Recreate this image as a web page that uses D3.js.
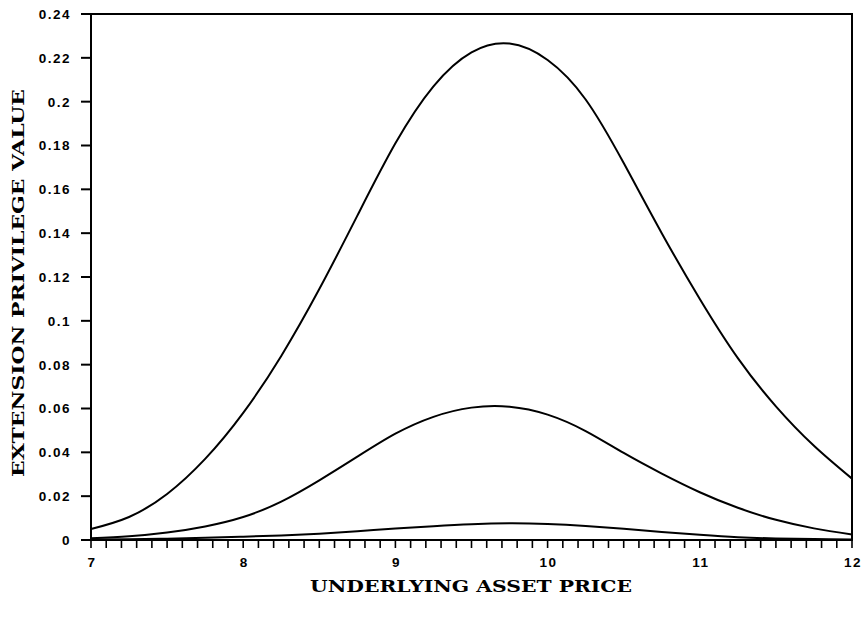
<!DOCTYPE html>
<html>
<head>
<meta charset="utf-8">
<script src="https://cdn.jsdelivr.net/npm/d3@7"></script>
<style>
  html, body { margin: 0; padding: 0; background: #fff; }
  svg { display: block; }
</style>
</head>
<body>
<div id="chart"></div>
<script>
// underlying asset price, read every 0.25
const prices = [7, 7.25, 7.5, 7.75, 8, 8.25, 8.5, 8.75, 9, 9.25, 9.5, 9.75,
  10, 10.25, 10.5, 10.75, 11, 11.25, 11.5, 11.75, 12];

// extension privilege value, one array per curve
const upperCurve = [0.005, 0.0105, 0.021, 0.037, 0.058, 0.084, 0.1145, 0.148, 0.181, 0.207,
  0.2225, 0.2265, 0.219, 0.201, 0.172, 0.140, 0.110, 0.083, 0.061, 0.043, 0.028];
const middleCurve = [0.0008, 0.0017, 0.0034, 0.0062, 0.0105, 0.0175, 0.0272, 0.038, 0.0485,
  0.0562, 0.0604, 0.0608, 0.0572, 0.0497, 0.0397, 0.0303, 0.0218, 0.0147, 0.0092, 0.0053, 0.0025];
const lowerCurve = [0.0002, 0.0003, 0.0006, 0.001, 0.0015, 0.0021, 0.0029, 0.004, 0.0052,
  0.0063, 0.0072, 0.0076, 0.0073, 0.0064, 0.0051, 0.0037, 0.0024, 0.0013, 0.0007, 0.0004, 0.0002];

const xTicks = [7, 8, 9, 10, 11, 12];
const yTicks = [0, 0.02, 0.04, 0.06, 0.08, 0.1, 0.12, 0.14, 0.16, 0.18, 0.2, 0.22, 0.24];

const width = 866;
const height = 619;
const marginLeft = 91;
const marginRight = 14;
const marginTop = 14;
const marginBottom = 79;

const x = d3.scaleLinear()
  .domain([7, 12])
  .range([marginLeft, width - marginRight]);

const y = d3.scaleLinear()
  .domain([0, 0.24])
  .range([height - marginBottom, marginTop]);

const svg = d3.select("#chart").append("svg")
  .attr("width", width)
  .attr("height", height);

const labelFont = "Liberation Sans, Arial, sans-serif";

// frame: left, bottom, top and right edges
svg.append("path")
  .attr("d", `M${x(7)},${y(0)}V${y(0.24)}M${x(7) - 10},${y(0.24)}H${x(12)}V${y(0)}H${x(7)}`)
  .attr("fill", "none")
  .attr("stroke", "#000")
  .attr("stroke-width", 2);

// y ticks and labels
const yg = svg.append("g");
yg.selectAll("line")
  .data(yTicks)
  .join("line")
  .attr("x1", x(7) - 10)
  .attr("x2", x(7))
  .attr("y1", d => y(d))
  .attr("y2", d => y(d))
  .attr("stroke", "#000")
  .attr("stroke-width", 2);
yg.selectAll("text")
  .data(yTicks)
  .join("text")
  .attr("x", x(7) - 20)
  .attr("y", d => y(d))
  .attr("dy", "0.36em")
  .attr("text-anchor", "end")
  .attr("font-family", labelFont)
  .attr("font-weight", "bold")
  .attr("font-size", 13.5)
  .attr("letter-spacing", "1.5px")
  .text(d => String(+d.toFixed(2)));

// x ticks every 0.1 and labels
const minor = d3.range(70, 121).map(d => d / 10);
const xg = svg.append("g");
xg.selectAll("line")
  .data(minor)
  .join("line")
  .attr("x1", d => x(d))
  .attr("x2", d => x(d))
  .attr("y1", y(0))
  .attr("y2", y(0) + 8)
  .attr("stroke", "#000")
  .attr("stroke-width", 1.6);
xg.selectAll("text")
  .data(xTicks)
  .join("text")
  .attr("x", d => x(d) + 1)
  .attr("y", y(0) + 27)
  .attr("text-anchor", "middle")
  .attr("font-family", labelFont)
  .attr("font-weight", "bold")
  .attr("font-size", 13.5)
  .attr("letter-spacing", "1.5px")
  .text(d => d);

// curves
const line = d3.line()
  .x((d, i) => x(prices[i]))
  .y(d => y(d))
  .curve(d3.curveNatural);

svg.append("g")
  .selectAll("path")
  .data([upperCurve, middleCurve, lowerCurve])
  .join("path")
  .attr("d", line)
  .attr("fill", "none")
  .attr("stroke", "#000")
  .attr("stroke-width", 2);

// axis titles
svg.append("text")
  .attr("x", 471)
  .attr("y", 592)
  .attr("text-anchor", "middle")
  .attr("font-family", "DejaVu Serif, serif")
  .attr("font-weight", "bold")
  .attr("font-size", 17)
  .attr("textLength", 322)
  .attr("lengthAdjust", "spacingAndGlyphs")
  .text("UNDERLYING ASSET PRICE");

svg.append("text")
  .attr("transform", `translate(24,283) rotate(-90)`)
  .attr("text-anchor", "middle")
  .attr("font-family", "DejaVu Serif, serif")
  .attr("font-weight", "bold")
  .attr("font-size", 17)
  .attr("textLength", 388)
  .attr("lengthAdjust", "spacingAndGlyphs")
  .text("EXTENSION PRIVILEGE VALUE");
</script>
</body>
</html>
